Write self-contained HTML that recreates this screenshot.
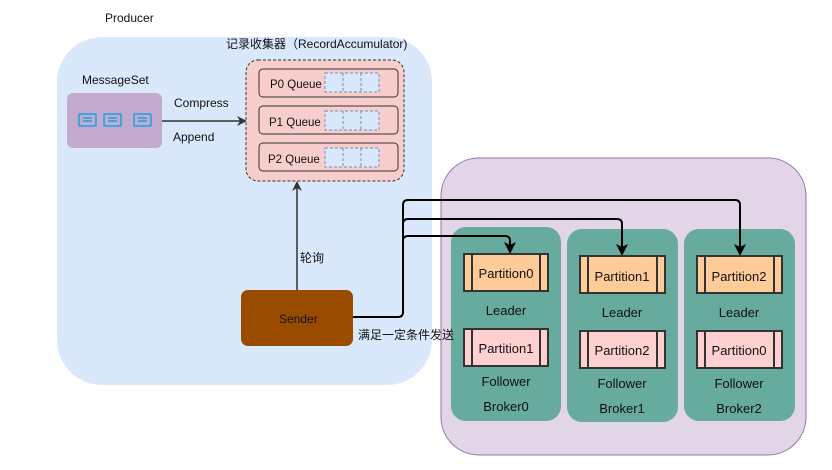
<!DOCTYPE html>
<html><head><meta charset="utf-8"><style>
html,body{margin:0;padding:0;background:#fff;}
svg{display:block;}
text{font-family:"Liberation Sans","Noto Sans CJK SC",sans-serif;fill:#111;}
</style></head><body>
<svg width="832" height="470" viewBox="0 0 832 470" xmlns="http://www.w3.org/2000/svg">
<defs>
<marker id="ah" markerWidth="10" markerHeight="10" refX="8" refY="5" orient="auto" markerUnits="userSpaceOnUse">
<path d="M0,0 L10,5 L0,10 L3,5 Z" fill="#333"/></marker>
<marker id="ak" markerWidth="12" markerHeight="12" refX="9" refY="6" orient="auto" markerUnits="userSpaceOnUse">
<path d="M0,0 L12,6 L0,12 L3,6 Z" fill="#000"/></marker>
</defs>
<text x="105" y="22" font-size="12">Producer</text>
<rect x="57" y="37" width="375" height="348" rx="45" fill="#dae8fc"/>
<rect x="441" y="158" width="365" height="297" rx="38" fill="#e1d5e7" stroke="#9673a6"/>
<text x="226" y="48" font-size="12">记录收集器（RecordAccumulator)</text>
<text x="82" y="84" font-size="12">MessageSet</text>
<rect x="67" y="93" width="95" height="55" rx="6" fill="#c3abd0"/>
<g fill="none" stroke="#1ba1e2" stroke-width="1.5">
<rect x="79" y="114" width="17" height="12" rx="1"/><rect x="104" y="114" width="17" height="12" rx="1"/><rect x="134" y="114" width="17" height="12" rx="1"/>
<path d="M83,118h9M83,121h9M108,118h9M108,121h9M138,118h9M138,121h9"/>
</g>
<line x1="162" y1="121" x2="245" y2="121" stroke="#333" stroke-width="1.5" marker-end="url(#ah)"/>
<text x="174" y="107" font-size="12">Compress</text>
<text x="173" y="141" font-size="12">Append</text>
<rect x="246" y="60" width="158" height="121" rx="12" fill="#f8cecc" stroke="#333" stroke-dasharray="3,2"/>
<g>
<rect x="259" y="69" width="139" height="28" rx="4" fill="#f8cecc" stroke="#333"/>
<rect x="259" y="106" width="139" height="28" rx="4" fill="#f8cecc" stroke="#333"/>
<rect x="259" y="143" width="139" height="28" rx="4" fill="#f8cecc" stroke="#333"/>
<g fill="#dae8fc" stroke="#6c8ebf" stroke-dasharray="3,2">
<rect x="325" y="73" width="54" height="19"/><rect x="325" y="111" width="54" height="19"/><rect x="325" y="148" width="54" height="19"/>
<path d="M343,73v19M361,73v19M343,111v19M361,111v19M343,148v19M361,148v19"/>
</g>
<text x="270" y="88" font-size="11.5">P0 Queue</text>
<text x="269" y="126" font-size="11.5">P1 Queue</text>
<text x="268" y="163" font-size="11.5">P2 Queue</text>
</g>
<line x1="297" y1="290" x2="297" y2="183" stroke="#333" stroke-width="1.5" marker-end="url(#ah)"/>
<text x="300" y="262" font-size="12">轮询</text>
<rect x="241" y="290" width="112" height="56" rx="7" fill="#994c00"/>
<text x="279" y="323" font-size="12">Sender</text>
<g>
<rect x="451" y="227" width="110" height="194" rx="15" fill="#67ab9f"/>
<rect x="567" y="229" width="111" height="193" rx="15" fill="#67ab9f"/>
<rect x="684" y="229" width="111" height="192" rx="15" fill="#67ab9f"/>
</g>
<g fill="none" stroke="#000" stroke-width="2">
<path d="M353,317 H398 Q403,317 403,312 V205 Q403,200 408,200 H735 Q740,200 740,205 V253" marker-end="url(#ak)"/>
<path d="M403,224 Q403,219 408,219 H617 Q622,219 622,224 V253" marker-end="url(#ak)"/>
<path d="M403,241 Q403,236 408,236 H505 Q510,236 510,241 V251" marker-end="url(#ak)"/>
</g>
<text x="358" y="339" font-size="12">满足一定条件发送</text>
<g stroke="#333" stroke-width="2">
<rect x="464" y="254" width="84" height="37" fill="#ffcc99"/><path d="M472,254v37M540,254v37"/>
<rect x="580" y="256" width="85" height="37" fill="#ffcc99"/><path d="M588,256v37M657,256v37"/>
<rect x="697" y="256" width="85" height="37" fill="#ffcc99"/><path d="M705,256v37M774,256v37"/>
<rect x="464" y="329" width="84" height="37" fill="#ffd0d0"/><path d="M472,329v37M540,329v37"/>
<rect x="580" y="331" width="85" height="37" fill="#ffd0d0"/><path d="M588,331v37M657,331v37"/>
<rect x="697" y="331" width="85" height="37" fill="#ffd0d0"/><path d="M705,331v37M774,331v37"/>
</g>
<g font-size="13" text-anchor="middle">
<text x="506" y="278">Partition0</text><text x="622" y="281">Partition1</text><text x="739" y="281">Partition2</text>
<text x="506" y="353">Partition1</text><text x="622" y="355">Partition2</text><text x="739" y="355">Partition0</text>
<text x="506" y="315">Leader</text><text x="622" y="317">Leader</text><text x="739" y="317">Leader</text>
<text x="506" y="386">Follower</text><text x="622" y="388">Follower</text><text x="739" y="388">Follower</text>
<text x="506" y="411">Broker0</text><text x="622" y="413">Broker1</text><text x="739" y="413">Broker2</text>
</g>
</svg>
</body></html>
